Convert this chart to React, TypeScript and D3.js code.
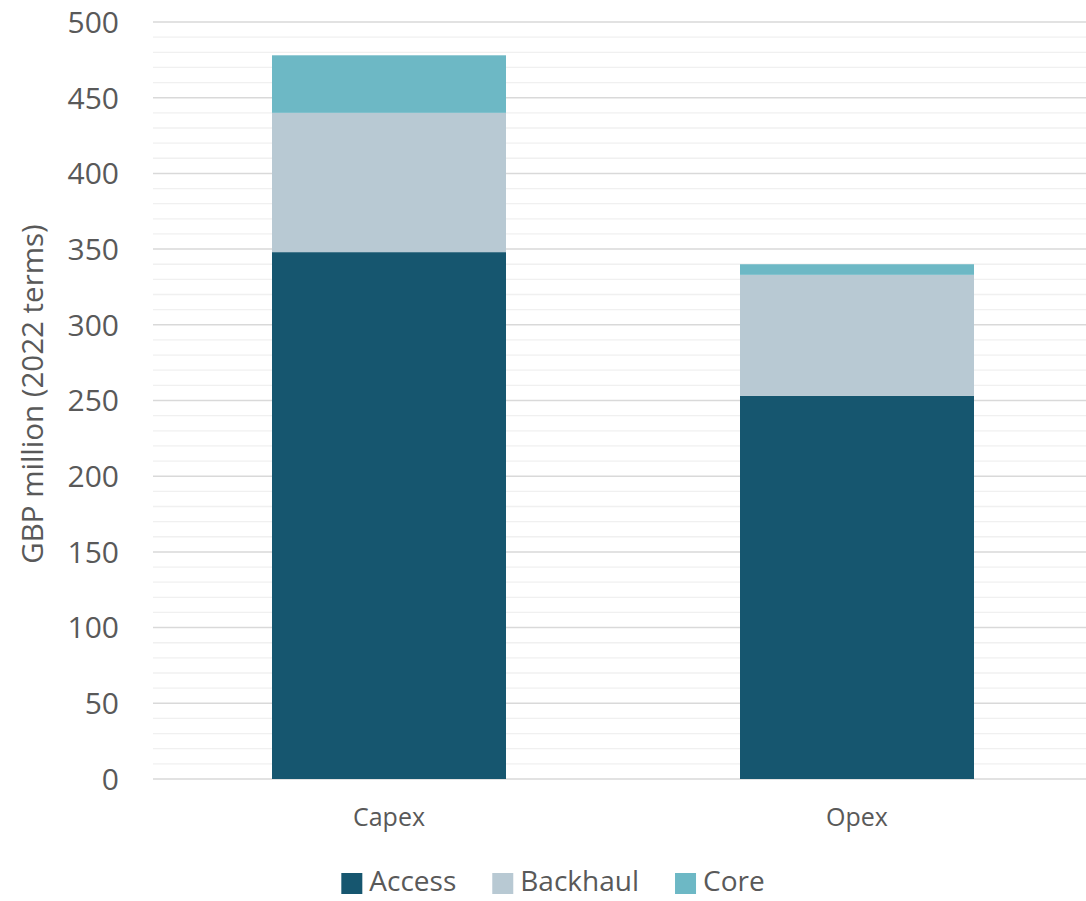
import React, { useRef, useEffect } from 'react';
import * as d3 from 'd3';

const categories = ['Capex', 'Opex'];
const seriesNames = ['Access', 'Backhaul', 'Core'];
const accessValues = [348, 253];
const backhaulValues = [92, 80];
const coreValues = [38, 7];
const yTicks = [0, 50, 100, 150, 200, 250, 300, 350, 400, 450, 500];
const colors = ['#16566F', '#B8C9D3', '#6DB8C5'];

const WIDTH = 1086;
const HEIGHT = 901;
const FONT = '"Open Sans", "Liberation Sans", sans-serif';
const TEXT = '#595959';

function App() {
  const ref = useRef<SVGSVGElement>(null);

  useEffect(() => {
    const svg = d3.select(ref.current);
    svg.selectAll('*').remove();

    const x0 = 155;
    const x1 = 1091;
    const yTop = 22;
    const yBottom = 779;

    const x = d3
      .scaleBand()
      .domain(categories)
      .range([x0, x1])
      .paddingInner(0.5)
      .paddingOuter(0.25);

    const y = d3.scaleLinear().domain([0, 500]).range([yBottom, yTop]);

    // minor gridlines every 10
    const minor = d3.range(0, 501, 10).filter((v) => v % 50 !== 0);
    svg
      .append('g')
      .selectAll('line')
      .data(minor)
      .enter()
      .append('line')
      .attr('x1', 153)
      .attr('x2', WIDTH)
      .attr('y1', (d) => y(d))
      .attr('y2', (d) => y(d))
      .attr('stroke', '#f0f0f0')
      .attr('stroke-width', 1.3);

    svg
      .append('g')
      .selectAll('line')
      .data(yTicks)
      .enter()
      .append('line')
      .attr('x1', 153)
      .attr('x2', WIDTH)
      .attr('y1', (d) => y(d))
      .attr('y2', (d) => y(d))
      .attr('stroke', '#d9d9d9')
      .attr('stroke-width', 1.5);

    // stacked bars
    const rows = categories.map((c, i) => ({
      category: c,
      Access: accessValues[i],
      Backhaul: backhaulValues[i],
      Core: coreValues[i],
    }));
    const stacked = d3.stack<any>().keys(seriesNames)(rows);

    stacked.forEach((layer, si) => {
      svg
        .append('g')
        .selectAll('rect')
        .data(layer)
        .enter()
        .append('rect')
        .attr('x', (d: any) => x(d.data.category) as number)
        .attr('width', x.bandwidth())
        .attr('y', (d) => y(d[1]))
        .attr('height', (d) => y(d[0]) - y(d[1]))
        .attr('fill', colors[si]);
    });

    // y tick labels
    svg
      .append('g')
      .selectAll('text')
      .data(yTicks)
      .enter()
      .append('text')
      .attr('x', 119)
      .attr('y', (d) => y(d))
      .attr('dy', '0.36em')
      .attr('text-anchor', 'end')
      .attr('font-family', FONT)
      .attr('font-size', 30)
      .attr('fill', TEXT)
      .text((d) => d);

    // category labels
    svg
      .append('g')
      .selectAll('text')
      .data(categories)
      .enter()
      .append('text')
      .attr('x', (d) => (x(d) as number) + x.bandwidth() / 2)
      .attr('y', 826)
      .attr('text-anchor', 'middle')
      .attr('font-family', FONT)
      .attr('font-size', 25)
      .attr('fill', TEXT)
      .text((d) => d);

    // y title
    svg
      .append('text')
      .attr('transform', 'translate(43,394) rotate(-90)')
      .attr('text-anchor', 'middle')
      .attr('font-family', FONT)
      .attr('font-size', 29.5)
      .attr('fill', TEXT)
      .text('GBP million (2022 terms)');

    // legend, centred under the chart
    const legend = svg.append('g');
    const items: { g: any; w: number }[] = [];
    seriesNames.forEach((name, i) => {
      const g = legend.append('g');
      g.append('rect')
        .attr('x', 0)
        .attr('y', 873)
        .attr('width', 21)
        .attr('height', 21)
        .attr('fill', colors[i]);
      const t = g
        .append('text')
        .attr('x', 28)
        .attr('y', 891)
        .attr('font-family', FONT)
        .attr('font-size', 28)
        .attr('fill', TEXT)
        .text(name);
      const w = 28 + (t.node() as SVGTextElement).getComputedTextLength();
      items.push({ g, w });
    });
    const gap = 36;
    const total = d3.sum(items, (d) => d.w) + gap * (items.length - 1);
    let lx = 553 - total / 2;
    items.forEach((it) => {
      it.g.attr('transform', `translate(${lx},0)`);
      lx += it.w + gap;
    });
  }, []);

  return (
    <svg
      ref={ref}
      width={WIDTH}
      height={HEIGHT}
      style={{ position: 'absolute', left: 0, top: 0, background: '#fff' }}
    ></svg>
  );
}

export default App;
